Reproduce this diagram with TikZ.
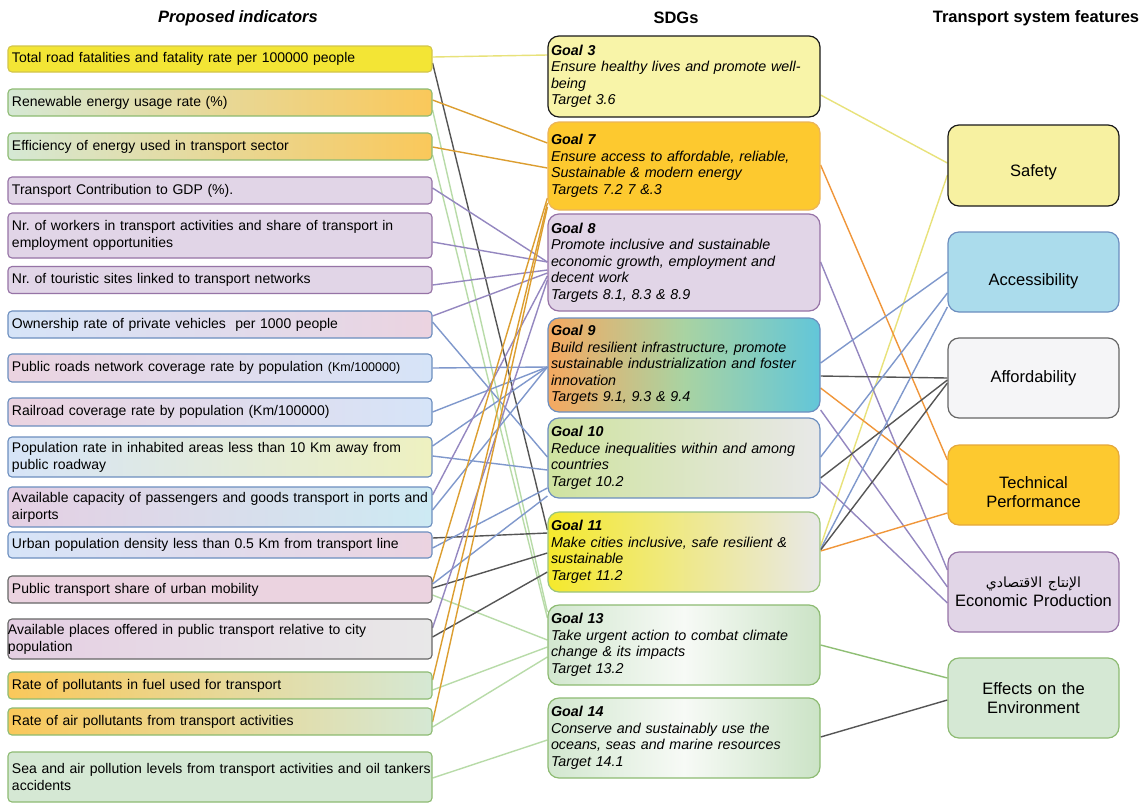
\documentclass[tikz,border=0pt]{standalone}
\usepackage{fontspec}
\setmainfont{Liberation Sans}
\newfontfamily\arabicfont[Script=Arabic]{DejaVu Sans}
\TeXXeTstate=1
\frenchspacing
\usetikzlibrary{backgrounds}
\definecolor{cYel}{HTML}{F3E535}
\definecolor{cYelB}{HTML}{D2C54A}
\definecolor{cGrnF}{HTML}{D5E8D4}
\definecolor{cGrnB}{HTML}{8DBB72}
\definecolor{cOrgF}{HTML}{FAC85A}
\definecolor{cPurF}{HTML}{E1D5E7}
\definecolor{cPurB}{HTML}{9673A6}
\definecolor{cBluF}{HTML}{D6E4F8}
\definecolor{cBluB}{HTML}{6C8EBF}
\definecolor{cPnkF}{HTML}{EBD3E0}
\definecolor{cPnkF2}{HTML}{E5CFE3}
\definecolor{cCyaF}{HTML}{CDEAF3}
\definecolor{cYGF}{HTML}{EEF1C0}
\definecolor{cGryB}{HTML}{666666}
\definecolor{cGryF}{HTML}{E8E8E8}
\definecolor{gThreeF}{HTML}{F8F4A8}
\definecolor{gSevF}{HTML}{FDC92F}
\definecolor{gSevB}{HTML}{EBB55A}
\definecolor{gNineL}{HTML}{F5A860}
\definecolor{gNineM}{HTML}{A9D3A2}
\definecolor{gNineR}{HTML}{62C6D9}
\definecolor{gTenL}{HTML}{CFE3A0}
\definecolor{gElvL}{HTML}{F5E92C}
\definecolor{gElvB}{HTML}{9AC47E}
\definecolor{gThiL}{HTML}{D2E7CF}
\definecolor{gThiM}{HTML}{F7FAF6}
\definecolor{gThiR}{HTML}{CBE3C6}
\definecolor{rSafF}{HTML}{F7F1A1}
\definecolor{rAccF}{HTML}{ABDCEC}
\definecolor{rAffF}{HTML}{F5F5F7}
\definecolor{rTecB}{HTML}{E5A83A}
\definecolor{lnYel}{HTML}{E8E27A}
\definecolor{lnOrg}{HTML}{DC9E30}
\definecolor{lnOrgR}{HTML}{F0963A}
\definecolor{lnPur}{HTML}{9487C0}
\definecolor{lnBlu}{HTML}{7F98CC}
\definecolor{lnGry}{HTML}{555555}
\definecolor{lnLG}{HTML}{B8DBA8}
\definecolor{lnGrn}{HTML}{8FBF75}
\newcommand{\lowr}[2]{\raisebox{#1}[\height][\depth]{#2}}
\tikzset{
  lb/.style={draw, rounded corners=4pt, line width=1.1pt, text width=416pt, inner xsep=4pt, inner ysep=2pt, align=left, font=\fontsize{14}{17}\selectfont},
  mb/.style={draw, rounded corners=11pt, line width=1.2pt, text width=266pt, inner xsep=3pt, inner ysep=2pt, align=left, font=\fontsize{14.3}{16.5}\selectfont\itshape},
  rb/.style={draw, rounded corners=11pt, line width=1.2pt, text width=163pt, inner xsep=4pt, align=center, font=\fontsize{16.5}{19}\selectfont},
  hd/.style={font=\fontsize{16.5}{19}\selectfont\bfseries},
  cn/.style={line width=1.4pt}
}
\begin{document}
\begin{tikzpicture}[x=1pt,y=-1pt]
\useasboundingbox (0,0) rectangle (1146,804);
% headers
\node[hd] (h1) at (238,18) {\itshape Proposed indicators};
\node[hd] (h2) at (676,18) {SDGs};
\node[hd] (h3) at (1036,18) {Transport system features};
% left column
\node[lb, fill=cYel, draw=cYelB, minimum height=26pt] (fatal) at (220,59) {Total road fatalities and fatality rate per 100000 people};
\node[lb, left color=cGrnF, right color=cOrgF, draw=cGrnB, minimum height=27pt] (renew) at (220,102.5) {Renewable energy usage rate (\%)};
\node[lb, left color=cGrnF, right color=cOrgF, draw=cGrnB, minimum height=27pt] (effic) at (220,146.5) {Efficiency of energy used in transport sector};
\node[lb, fill=cPurF, draw=cPurB, minimum height=27pt] (gdp) at (220,190.5) {Transport Contribution to GDP (\%).};
\node[lb, fill=cPurF, draw=cPurB, minimum height=45pt] (workers) at (220,235.5) {Nr. of workers in transport activities and share of transport in\\employment opportunities};
\node[lb, fill=cPurF, draw=cPurB, minimum height=27pt] (tourist) at (220,280) {Nr. of touristic sites linked to transport networks};
\node[lb, left color=cBluF, right color=cPnkF, draw=cBluB, minimum height=27pt] (owner) at (220,324.5) {Ownership rate of private vehicles~ per 1000 people};
\node[lb, left color=cPnkF, right color=cBluF, draw=cBluB, minimum height=28pt] (roads) at (220,368) {Public roads network coverage rate by population {\fontsize{12.5}{15}\selectfont(Km/100000)}};
\node[lb, left color=cPnkF, right color=cBluF, draw=cBluB, minimum height=28pt] (rail) at (220,412) {Railroad coverage rate by population (Km/100000)};
\node[lb, left color=cBluF, right color=cYGF, draw=cBluB, minimum height=40pt] (poprate) at (220,457) {Population rate in inhabited areas less than 10 Km away from\\public roadway};
\node[lb, left color=cPnkF2, right color=cCyaF, draw=cBluB, minimum height=40pt] (capacity) at (220,507) {\mbox{Available capacity of passengers and goods transport in ports and}\\airports};
\node[lb, left color=cBluF, right color=cPnkF, draw=cBluB, minimum height=26pt] (urban) at (220,545) {Urban population density less than 0.5 Km from transport line};
\node[lb, fill=cPnkF, draw=cGryB, minimum height=27pt] (pts) at (220,589.5) {Public transport share of urban mobility};
\node[lb, left color=cPnkF2, right color=cGryF, draw=cGryB, minimum height=40pt] (places) at (220,639) {\hspace*{-4pt}Available places offered in public transport relative to city\\\hspace*{-4pt}population};
\node[lb, left color=cOrgF, right color=cGrnF, draw=cGrnB, minimum height=27pt] (fuel) at (220,685.5) {Rate of pollutants in fuel used for transport};
\node[lb, left color=cOrgF, right color=cGrnF, draw=cGrnB, minimum height=27pt] (air) at (220,721.5) {Rate of air pollutants from transport activities};
\node[lb, fill=cGrnF, draw=cGrnB, minimum height=50pt] (sea) at (220,777) {\mbox{Sea and air pollution levels from transport activities and oil tankers}\\accidents};
% middle column
\node[mb, fill=gThreeF, draw=black!90, minimum height=81pt] (g3) at (684,76.5) {{\bfseries Goal 3}\\Ensure healthy lives and promote well-\\being\\Target 3.6};
\node[mb, fill=gSevF, draw=gSevB, minimum height=88pt] (g7) at (684,166) {{\bfseries Goal 7}\\Ensure access to affordable, reliable,\\Sustainable \& modern energy\\Targets 7.2 7 \&.3};
\node[mb, fill=cPurF, draw=cPurB, minimum height=97pt] (g8) at (684,262.5) {{\bfseries Goal 8}\\Promote inclusive and sustainable\\economic growth, employment and\\decent work\\Targets 8.1, 8.3 \& 8.9};
\node[mb, left color=gNineL, right color=gNineR, middle color=gNineM, draw=cBluB, minimum height=94pt] (g9) at (684,365) {{\bfseries Goal 9}\\Build resilient infrastructure, promote\\sustainable industrialization and foster\\innovation\\Targets 9.1, 9.3 \& 9.4};
\node[mb, left color=gTenL, right color=cGryF, draw=cBluB, minimum height=80pt] (g10) at (684,458) {{\bfseries Goal 10}\\Reduce inequalities within and among\\countries\\Target 10.2};
\node[mb, left color=gElvL, right color=cGryF, draw=gElvB, minimum height=80pt] (g11) at (684,552) {{\bfseries Goal 11}\\Make cities inclusive, safe resilient \&\\sustainable\\Target 11.2};
\node[mb, left color=gThiL, right color=gThiR, middle color=gThiM, draw=cGrnB, minimum height=80pt] (g13) at (684,645) {{\bfseries Goal 13}\\Take urgent action to combat climate\\change \& its impacts\\Target 13.2};
\node[mb, left color=gThiL, right color=gThiR, middle color=gThiM, draw=cGrnB, minimum height=80pt] (g14) at (684,738) {{\bfseries Goal 14}\\Conserve and sustainably use the\\oceans, seas and marine resources\\Target 14.1};
% right column
\node[rb, fill=rSafF, draw=black!90, minimum height=81pt] (saf) at (1033.5,165.5) {\lowr{-7pt}{Safety}};
\node[rb, fill=rAccF, draw=cBluB, minimum height=80pt] (acc) at (1033.5,272) {\lowr{-9pt}{Accessibility}};
\node[rb, fill=rAffF, draw=cGryB, minimum height=80pt] (aff) at (1033.5,378) {Affordability};
\node[rb, fill=gSevF, draw=rTecB, minimum height=80pt] (tec) at (1033.5,485) {\lowr{-7pt}{Technical}\\\lowr{-7pt}{Performance}};
\node[rb, fill=cPurF, draw=cPurB, minimum height=80pt] (eco) at (1033.5,592) {{\arabicfont\fontsize{14}{16}\selectfont\beginR الإنتاج الاقتصادي\endR}\\Economic Production};
\node[rb, fill=cGrnF, draw=cGrnB, minimum height=80pt] (env) at (1033.5,698) {Effects on the\\Environment};
\begin{pgfonlayer}{background}
\fill[white] (0,0) rectangle (1146,804);
% left -> middle
\draw[cn, lnYel] (fatal.east |- 0,57) -- (g3.west |- 0,55);
\draw[cn, lnGry] (fatal.east |- 0,63) -- (g11.west |- 0,530);
\draw[cn, lnOrg] (renew.east |- 0,100) -- (g7.west |- 0,143);
\draw[cn, lnLG] (renew.east |- 0,110) -- (g13.west |- 0,612);
\draw[cn, lnOrg] (effic.east |- 0,147) -- (g7.west |- 0,168);
\draw[cn, lnLG] (effic.east |- 0,155) -- (g13.west |- 0,618);
\draw[cn, lnPur] (gdp.east |- 0,188) -- (g8.west |- 0,262);
\draw[cn, lnPur] (workers.east |- 0,242) -- (g8.west |- 0,262);
\draw[cn, lnPur] (tourist.east |- 0,285) -- (g8.west |- 0,270);
\draw[cn, lnPur] (owner.east |- 0,316) -- (g8.west |- 0,273);
\draw[cn, lnBlu] (owner.east |- 0,322) -- (g10.west |- 0,457);
\draw[cn, lnBlu] (roads.east |- 0,368) -- (g9.west |- 0,367);
\draw[cn, lnBlu] (rail.east |- 0,412) -- (g9.west |- 0,367);
\draw[cn, lnBlu] (poprate.east |- 0,446) -- (g9.west |- 0,367);
\draw[cn, lnBlu] (poprate.east |- 0,456) -- (g10.west |- 0,470);
\draw[cn, lnPur] (capacity.east |- 0,495) -- (g8.west |- 0,276);
\draw[cn, lnBlu] (capacity.east |- 0,510) -- (g9.west |- 0,367);
\draw[cn, lnGry] (urban.east |- 0,538) -- (g11.west |- 0,533);
\draw[cn, lnBlu] (urban.east |- 0,548) -- (g10.west |- 0,488);
\draw[cn, lnOrg] (pts.east |- 0,582) -- (g7.west |- 0,198);
\draw[cn, lnBlu] (pts.east |- 0,584) -- (g10.west |- 0,496);
\draw[cn, lnGry] (pts.east |- 0,588) -- (g11.west |- 0,553);
\draw[cn, lnLG] (pts.east |- 0,595) -- (g13.west |- 0,640);
\draw[cn, lnPur] (places.east |- 0,628) -- (g8.west |- 0,280);
\draw[cn, lnGry] (places.east |- 0,637) -- (g11.west |- 0,572);
\draw[cn, lnOrg] (fuel.east |- 0,680) -- (g7.west |- 0,203);
\draw[cn, lnLG] (fuel.east |- 0,690) -- (g13.west |- 0,647);
\draw[cn, lnOrg] (air.east |- 0,722) -- (g7.west |- 0,207);
\draw[cn, lnLG] (air.east |- 0,727) -- (g13.west |- 0,657);
\draw[cn, lnLG] (sea.east |- 0,778) -- (g14.west |- 0,740);
% middle -> right
\draw[cn, lnYel] (g3.east |- 0,95) -- (saf.west |- 0,163);
\draw[cn, lnYel] (g11.east |- 0,546) -- (saf.west |- 0,175);
\draw[cn, lnOrgR] (g7.east |- 0,165) -- (tec.west |- 0,460);
\draw[cn, lnPur] (g8.east |- 0,262) -- (eco.west |- 0,570);
\draw[cn, lnBlu] (g9.east |- 0,363) -- (acc.west |- 0,272);
\draw[cn, lnGry] (g9.east |- 0,376) -- (aff.west |- 0,378);
\draw[cn, lnOrgR] (g9.east |- 0,388) -- (tec.west |- 0,485);
\draw[cn, lnPur] (g9.east |- 0,410) -- (eco.west |- 0,587);
\draw[cn, lnBlu] (g10.east |- 0,457) -- (acc.west |- 0,293);
\draw[cn, lnGry] (g10.east |- 0,478) -- (aff.west |- 0,380);
\draw[cn, lnPur] (g10.east |- 0,482) -- (eco.west |- 0,603);
\draw[cn, lnBlu] (g11.east |- 0,549) -- (acc.west |- 0,307);
\draw[cn, lnGry] (g11.east |- 0,550) -- (aff.west |- 0,383);
\draw[cn, lnOrgR] (g11.east |- 0,551) -- (tec.west |- 0,513);
\draw[cn, lnGrn] (g13.east |- 0,645) -- (env.west |- 0,678);
\draw[cn, lnGry] (g14.east |- 0,737) -- (env.west |- 0,700);
\end{pgfonlayer}
\end{tikzpicture}
\end{document}
